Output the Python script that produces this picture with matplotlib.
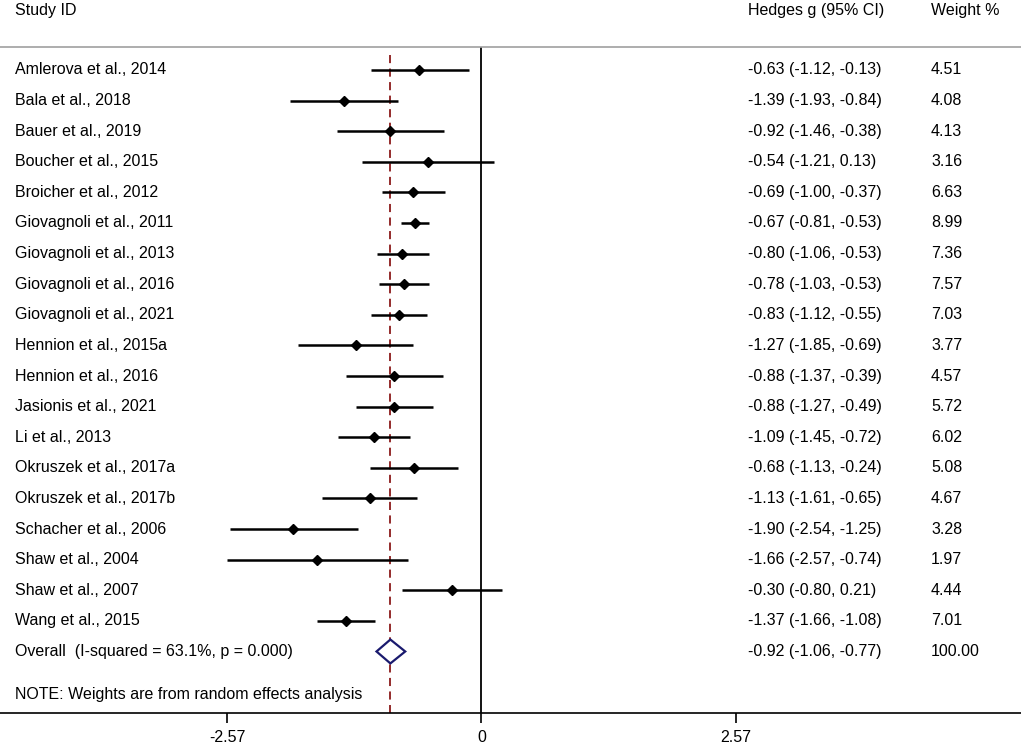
import matplotlib
matplotlib.use("Agg")
import matplotlib.pyplot as plt
from matplotlib.patches import Polygon

studies = ["Amlerova et al., 2014", "Bala et al., 2018", "Bauer et al., 2019",
           "Boucher et al., 2015", "Broicher et al., 2012", "Giovagnoli et al., 2011",
           "Giovagnoli et al., 2013", "Giovagnoli et al., 2016", "Giovagnoli et al., 2021",
           "Hennion et al., 2015a", "Hennion et al., 2016", "Jasionis et al., 2021",
           "Li et al., 2013", "Okruszek et al., 2017a", "Okruszek et al., 2017b",
           "Schacher et al., 2006", "Shaw et al., 2004", "Shaw et al., 2007",
           "Wang et al., 2015"]
est = [-0.63, -1.39, -0.92, -0.54, -0.69, -0.67, -0.80, -0.78, -0.83, -1.27,
       -0.88, -0.88, -1.09, -0.68, -1.13, -1.90, -1.66, -0.30, -1.37]
lo = [-1.12, -1.93, -1.46, -1.21, -1.00, -0.81, -1.06, -1.03, -1.12, -1.85,
      -1.37, -1.27, -1.45, -1.13, -1.61, -2.54, -2.57, -0.80, -1.66]
hi = [-0.13, -0.84, -0.38, 0.13, -0.37, -0.53, -0.53, -0.53, -0.55, -0.69,
      -0.39, -0.49, -0.72, -0.24, -0.65, -1.25, -0.74, 0.21, -1.08]
weights = [4.51, 4.08, 4.13, 3.16, 6.63, 8.99, 7.36, 7.57, 7.03, 3.77,
           4.57, 5.72, 6.02, 5.08, 4.67, 3.28, 1.97, 4.44, 7.01]
overall_label = "Overall  (I-squared = 63.1%, p = 0.000)"
overall = (-0.92, -1.06, -0.77)
overall_weight = "100.00"
note = "NOTE: Weights are from random effects analysis"
xticks = [-2.57, 0, 2.57]
xticklabels = ["-2.57", "0", "2.57"]

plt.rcParams['font.family'] = ['Liberation Sans', 'DejaVu Sans']
FS = 11.5
W, H = 1021, 745
fig = plt.figure(figsize=(W / 100, H / 100), dpi=100)
ax = fig.add_axes([0, (H - 713) / H, 1, (713 - 47) / H])
ax.set_xlim(-4.862, 5.448)
ax.set_ylim(21.01, -0.75)

for s in ["left", "right"]:
    ax.spines[s].set_visible(False)
ax.spines["top"].set_color("#a0a0a0")
ax.spines["top"].set_linewidth(1.2)
ax.spines["bottom"].set_linewidth(1.2)
ax.set_yticks([])
ax.set_xticks(xticks)
ax.set_xticklabels(xticklabels, fontsize=FS)
ax.tick_params(axis="x", direction="out", length=7, width=1.2, pad=5)

# null line
ax.axvline(0, color="black", lw=1.3, zorder=2)
# overall dashed line
ax.plot([overall[0], overall[0]], [-0.5, 21.01], color="#8b1a1a", lw=1.3,
        dashes=(4.5, 3), zorder=2, clip_on=False)

for i, (e, l, h) in enumerate(zip(est, lo, hi)):
    ax.plot([l, h], [i, i], color="black", lw=1.8, solid_capstyle="butt", zorder=3)
    ax.plot(e, i, marker="D", color="black", ms=5.5, zorder=4)

row_o = len(studies)
oe, ol, oh = overall
dh = 0.39
diamond = Polygon([[ol, row_o], [oe, row_o - dh], [oh, row_o], [oe, row_o + dh]],
                  closed=True, facecolor="white", edgecolor="#1a1a6e", lw=1.6, zorder=5)
ax.add_patch(diamond)

tr = ax.get_yaxis_transform()
x_lab = 15 / W
x_est = 748 / W
x_w = 931 / W
for i, s in enumerate(studies):
    ax.text(x_lab, i, s, transform=tr, fontsize=FS, va="center", ha="left")
    ax.text(x_est, i, f"{est[i]:.2f} ({lo[i]:.2f}, {hi[i]:.2f})", transform=tr,
            fontsize=FS, va="center", ha="left")
    ax.text(x_w, i, f"{weights[i]:.2f}", transform=tr, fontsize=FS, va="center", ha="left")
ax.text(x_lab, row_o, overall_label, transform=tr, fontsize=FS, va="center", ha="left")
ax.text(x_est, row_o, f"{oe:.2f} ({ol:.2f}, {oh:.2f})", transform=tr,
        fontsize=FS, va="center", ha="left")
ax.text(x_w, row_o, overall_weight, transform=tr, fontsize=FS, va="center", ha="left")
ax.text(x_lab, 20.42, note, transform=tr, fontsize=FS, va="center", ha="left")

fig.text(x_lab, 1 - 10 / H, "Study ID", fontsize=FS, va="center", ha="left")
fig.text(x_est, 1 - 10 / H, "Hedges g (95% CI)", fontsize=FS, va="center", ha="left")
fig.text(x_w, 1 - 10 / H, "Weight %", fontsize=FS, va="center", ha="left")

fig.savefig("out.png", dpi=100)
